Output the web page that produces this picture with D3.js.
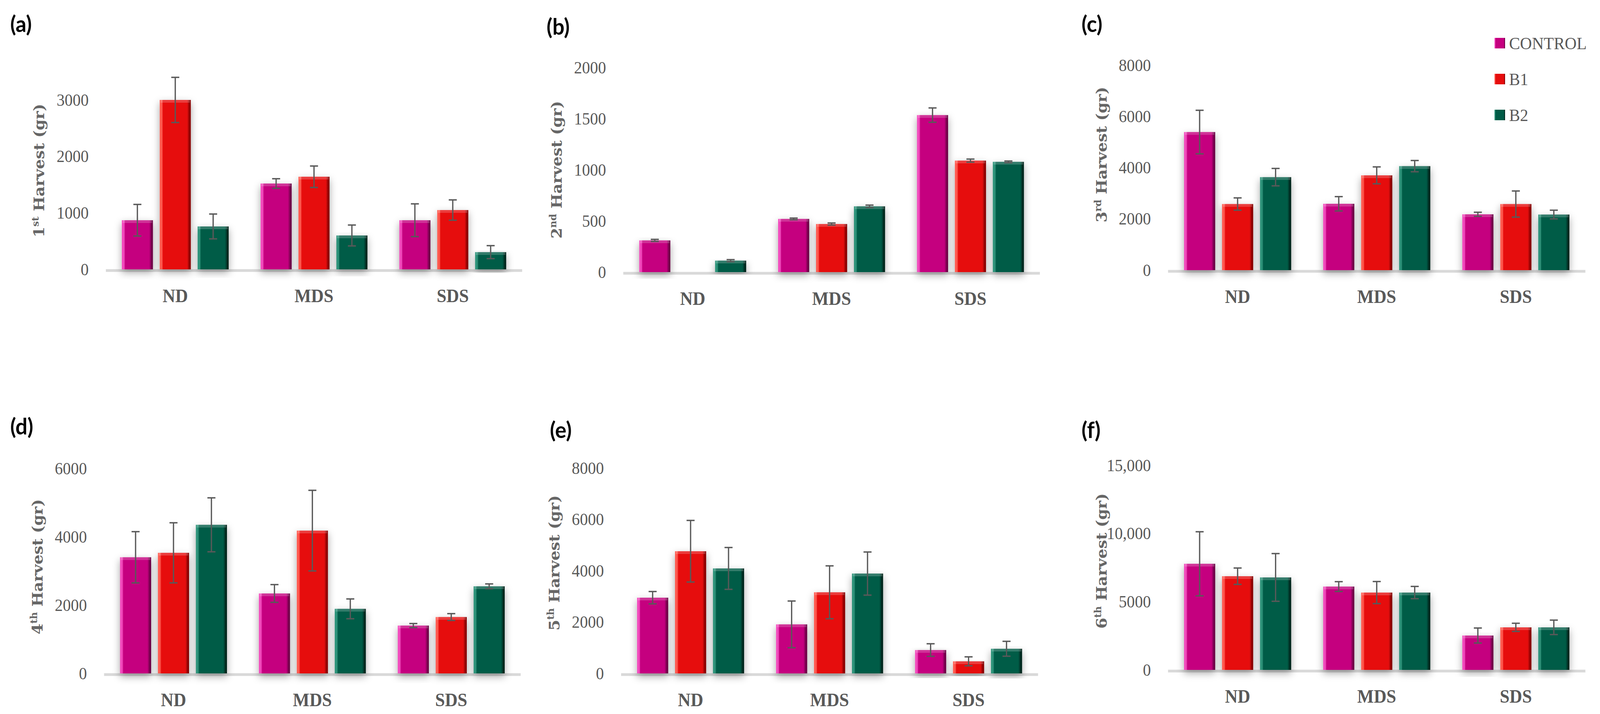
<!DOCTYPE html>
<html>
<head>
<meta charset="utf-8">
<script src="https://cdn.jsdelivr.net/npm/d3@7"></script>
<style>
  html, body { margin: 0; padding: 0; width: 100%; height: 100%; overflow: hidden; background: #fff; }
  svg { display: block; width: 100vw; height: 100vh; }
</style>
</head>
<body>
<svg id="chart" viewBox="0 0 4382 1829" preserveAspectRatio="none"></svg>
<script>
// data
const categories = ["ND", "MDS", "SDS"];
const series = ["CONTROL", "B1", "B2"];
const panelLetters = ["(a)", "(b)", "(c)", "(d)", "(e)", "(f)"];
const harvestNumber = ["1", "2", "3", "4", "5", "6"];
const harvestSuffix = ["st", "nd", "rd", "th", "th", "th"];

// rows = CONTROL, B1, B2 ; columns = ND, MDS, SDS
const harvest1Mean = [[870, 1520, 870], [3000, 1640, 1050], [760, 600, 305]];
const harvest1Err  = [[280, 85, 290], [400, 190, 180], [220, 185, 115]];
const harvest2Mean = [[310, 520, 1535], [0, 470, 1090], [112, 643, 1078]];
const harvest2Err  = [[10, 8, 70], [0, 10, 15], [10, 12, 8]];
const harvest3Mean = [[5390, 2590, 2180], [2580, 3700, 2580], [3630, 4060, 2170]];
const harvest3Err  = [[850, 280, 80], [240, 330, 510], [340, 220, 170]];
const harvest4Mean = [[3400, 2340, 1400], [3530, 4180, 1650], [4350, 1890, 2550]];
const harvest4Err  = [[750, 260, 60], [880, 1180, 100], [790, 290, 70]];
const harvest5Mean = [[2950, 1910, 910], [4760, 3160, 470], [4090, 3890, 960]];
const harvest5Err  = [[240, 910, 245], [1200, 1030, 175], [815, 840, 290]];
const harvest6Mean = [[7780, 6110, 2520], [6870, 5670, 3120], [6780, 5670, 3120]];
const harvest6Err  = [[2350, 360, 550], [600, 810, 300], [1750, 450, 530]];

const ticks1 = [0, 1000, 2000, 3000];
const ticks2 = [0, 500, 1000, 1500, 2000];
const ticks3 = [0, 2000, 4000, 6000, 8000];
const ticks4 = [0, 2000, 4000, 6000];
const ticks5 = [0, 2000, 4000, 6000, 8000];
const ticks6 = [0, 5000, 10000, 15000];
const tickLabels6 = ["0", "5000", "10,000", "15,000"];

const means = [harvest1Mean, harvest2Mean, harvest3Mean, harvest4Mean, harvest5Mean, harvest6Mean];
const errs = [harvest1Err, harvest2Err, harvest3Err, harvest4Err, harvest5Err, harvest6Err];
const tickSets = [ticks1, ticks2, ticks3, ticks4, ticks5, ticks6];

// layout of each panel on the page
const boxes = [
  {left: 290,  right: 1430, base: 690,  top: 256,  titleY: 437,  lx: 28,   ly: 82},
  {left: 1707, right: 2848, base: 697,  top: 173,  titleY: 435,  lx: 1497, ly: 89},
  {left: 3199, right: 4342, base: 692,  top: 167,  titleY: 396,  lx: 2962, ly: 82},
  {left: 285,  right: 1426, base: 1725, top: 1200, titleY: 1452, lx: 28,   ly: 1113},
  {left: 1701, right: 2843, base: 1725, top: 1199, titleY: 1442, lx: 1506, ly: 1122},
  {left: 3199, right: 4342, base: 1716, top: 1192, titleY: 1437, lx: 2962, ly: 1122}
];

const colors = {
  CONTROL: {light: "#f24cbd", main: "#c5007f", dark: "#6e0047"},
  B1:      {light: "#ff5a50", main: "#e60d0d", dark: "#8a0000"},
  B2:      {light: "#2f937a", main: "#005b46", dark: "#00261d"}
};
const grey = "#595959";

const svg = d3.select("#chart");
const defs = svg.append("defs");

// bar gradients (bevel look)
series.forEach(function(s) {
  const g = defs.append("linearGradient").attr("id", "grad-" + s)
    .attr("x1", 0).attr("x2", 1).attr("y1", 0).attr("y2", 0);
  g.append("stop").attr("offset", "0%").attr("stop-color", colors[s].light);
  g.append("stop").attr("offset", "7%").attr("stop-color", colors[s].light);
  g.append("stop").attr("offset", "11%").attr("stop-color", colors[s].main);
  g.append("stop").attr("offset", "88%").attr("stop-color", colors[s].main);
  g.append("stop").attr("offset", "96%").attr("stop-color", colors[s].dark);
  g.append("stop").attr("offset", "100%").attr("stop-color", colors[s].dark);
});

const shadow = defs.append("filter").attr("id", "shadow")
  .attr("x", "-40%").attr("y", "-10%").attr("width", "180%").attr("height", "130%");
shadow.append("feDropShadow").attr("dx", 0).attr("dy", 8).attr("stdDeviation", 10)
  .attr("flood-color", "#000").attr("flood-opacity", 0.35);

boxes.forEach(function(b, p) {
  const panel = svg.append("g");

  const x0 = d3.scaleBand().domain(categories).range([b.left, b.right]);
  const groupW = x0.bandwidth() * 0.77;
  const x1 = d3.scaleBand().domain(series).range([0, groupW]).paddingInner(0.18);
  const ticks = tickSets[p];
  const y = d3.scaleLinear().domain([0, ticks[ticks.length - 1]]).range([b.base, b.top]);

  // baseline
  panel.append("line")
    .attr("x1", b.left).attr("x2", b.right)
    .attr("y1", b.base + 3).attr("y2", b.base + 3)
    .attr("stroke", "#d9d9d9").attr("stroke-width", 7);

  // y axis labels
  const yAxis = d3.axisLeft(y).tickValues(ticks).tickSize(0).tickPadding(47)
    .tickFormat(function(d, i) { return p === 5 ? tickLabels6[i] : String(d); });
  const ya = panel.append("g").attr("transform", "translate(" + b.left + ",0)").call(yAxis);
  ya.select(".domain").remove();
  ya.selectAll("text")
    .attr("font-family", "'Liberation Serif', serif").attr("font-size", 44)
    .attr("fill", grey);

  // x axis labels
  const xAxis = d3.axisBottom(x0).tickSize(0);
  const xa = panel.append("g").attr("transform", "translate(0," + b.base + ")").call(xAxis);
  xa.select(".domain").remove();
  xa.selectAll("text")
    .attr("y", 84).attr("dy", null)
    .attr("font-family", "'Liberation Serif', serif").attr("font-size", 48)
    .attr("font-weight", "bold").attr("fill", grey);

  // bars
  const rows = [];
  series.forEach(function(s, si) {
    categories.forEach(function(c, ci) {
      rows.push({s: s, c: c, v: means[p][si][ci], e: errs[p][si][ci]});
    });
  });
  const bx = function(d) { return x0(d.c) + (x0.bandwidth() - groupW) / 2 + x1(d.s); };
  const drawn = rows.filter(function(d) { return d.v > 0; });

  panel.selectAll("rect.bar").data(drawn).enter().append("rect")
    .attr("class", "bar")
    .attr("x", bx)
    .attr("y", function(d) { return y(d.v); })
    .attr("width", x1.bandwidth())
    .attr("height", function(d) { return y(0) - y(d.v); })
    .attr("fill", function(d) { return "url(#grad-" + d.s + ")"; })
    .attr("filter", "url(#shadow)");

  // top bevel
  panel.selectAll("rect.bevel").data(drawn).enter().append("rect")
    .attr("class", "bevel")
    .attr("x", function(d) { return bx(d) + 2; })
    .attr("y", function(d) { return y(d.v); })
    .attr("width", x1.bandwidth() - 4)
    .attr("height", function(d) { return Math.min(7, y(0) - y(d.v)); })
    .attr("fill", "#fff").attr("opacity", 0.2);

  // error bars
  const eb = panel.selectAll("g.err").data(drawn).enter().append("g")
    .attr("class", "err")
    .attr("transform", function(d) { return "translate(" + (bx(d) + x1.bandwidth() / 2) + ",0)"; })
    .attr("stroke", grey).attr("stroke-width", 3.5);
  eb.append("line")
    .attr("y1", function(d) { return y(d.v + d.e); })
    .attr("y2", function(d) { return y(Math.max(0, d.v - d.e)); });
  eb.append("line").attr("x1", -11).attr("x2", 11)
    .attr("y1", function(d) { return y(d.v + d.e); })
    .attr("y2", function(d) { return y(d.v + d.e); });
  eb.append("line").attr("x1", -11).attr("x2", 11)
    .attr("y1", function(d) { return y(Math.max(0, d.v - d.e)); })
    .attr("y2", function(d) { return y(Math.max(0, d.v - d.e)); });

  // y title
  const t = panel.append("text")
    .attr("transform", "translate(" + (b.left - 183) + "," + b.titleY + ") rotate(-90)")
    .attr("dy", "0.36em")
    .attr("text-anchor", "middle")
    .attr("font-family", "'DejaVu Serif', serif").attr("font-size", 40)
    .attr("font-weight", "bold").attr("fill", "#666");
  t.append("tspan").text(harvestNumber[p]);
  t.append("tspan").attr("font-size", 25).attr("dy", -15).text(harvestSuffix[p]);
  t.append("tspan").attr("dy", 15).text(" Harvest (gr)");

  // panel letter
  panel.append("text")
    .attr("x", b.lx).attr("y", b.ly)
    .attr("font-family", "Lato, sans-serif").attr("font-size", 58)
    .attr("font-weight", "bold").attr("fill", "#000")
    .text(panelLetters[p]);
});

// legend
const legend = svg.append("g").attr("transform", "translate(4093,110)");
const li = legend.selectAll("g").data(series).enter().append("g")
  .attr("transform", function(d, i) { return "translate(0," + i * 92 + ")"; });
li.append("rect")
  .attr("x", 0).attr("y", -13).attr("width", 29).attr("height", 27)
  .attr("fill", function(d) { return "url(#grad-" + d + ")"; });
li.append("text")
  .attr("x", 40).attr("dy", "0.35em")
  .attr("font-family", "'Liberation Serif', serif").attr("font-size", 45)
  .attr("fill", grey)
  .text(function(d) { return d; });
</script>
</body>
</html>
